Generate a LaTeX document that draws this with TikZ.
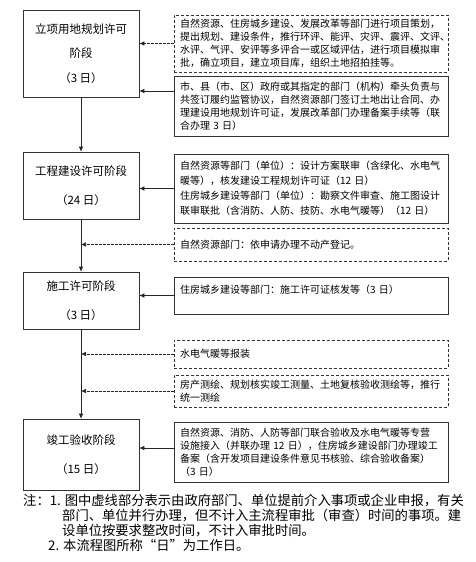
\documentclass[tikz,border=0pt]{standalone}
\usepackage{fontspec}
\setmainfont{Noto Sans CJK SC}
\usepackage{tikz}
\usetikzlibrary{arrows.meta}

\begin{document}
\begin{tikzpicture}[x=1pt,y=-1pt,
  stage/.style={draw=black!80,line width=0.6pt,minimum width=116pt,align=center,font=\fontsize{11.5}{29.5}\selectfont},
  task/.style={draw=black!80,line width=0.6pt,text width=262pt,inner xsep=6pt,align=left,font=\fontsize{10}{13}\selectfont},
  opt/.style={task,dash pattern=on 3pt off 2pt},
  flow/.style={draw=black!85,line width=0.6pt,-{Latex[length=5pt,width=4.5pt]}},
  optflow/.style={flow,dash pattern=on 2.5pt off 1.5pt},
  note/.style={anchor=base west,inner sep=0pt,font=\fontsize{13.3}{15}\selectfont}]
\useasboundingbox (0,0) rectangle (475,562);
\node[stage,minimum height=87pt,font=\fontsize{11.5}{24.5}\selectfont] (s1) at (81,53.5) {立项用地规划许可\\阶段\\（3 日）};
\node[stage,minimum height=67pt] (s2) at (81,185.5) {工程建设许可阶段\\（24 日）};
\node[stage,minimum height=57pt] (s3) at (81,300.5) {施工许可阶段\\（3 日）};
\node[stage,minimum height=71pt] (s4) at (81,454.5) {竣工验收阶段\\（15 日）};
\node[opt,minimum height=57pt] (r1) at (311,43.5) {自然资源、住房城乡建设、发展改革等部门进行项目策划，\\提出规划、建设条件，推行环评、能评、灾评、震评、文评、\\水评、气评、安评等多评合一或区域评估，进行项目模拟审\\批，确立项目，建立项目库，组织土地招拍挂等。};
\node[task,minimum height=60pt] (r2) at (311,106) {市、县（市、区）政府或其指定的部门（机构）牵头负责与\\共签订履约监管协议，自然资源部门签订土地出让合同、办\\理建设用地规划许可证，发展改革部门办理备案手续等（联\\合办理 3 日）};
\node[task,minimum height=69pt,font=\fontsize{10}{15}\selectfont] (r3) at (311,188.5) {自然资源等部门（单位）：设计方案联审（含绿化、水电气\\暖等），核发建设工程规划许可证（12 日）\\住房城乡建设等部门（单位）：勘察文件审查、施工图设计\\联审联批（含消防、人防、技防、水电气暖等）（12 日）};
\node[opt,minimum height=33pt] (r4) at (311,244.5) {自然资源部门：依申请办理不动产登记。};
\node[task,minimum height=37pt] (r5) at (311,295.5) {住房城乡建设等部门：施工许可证核发等（3 日）\\\mbox{}};
\node[opt,minimum height=28pt] (r6) at (311,354) {水电气暖等报装};
\node[opt,minimum height=32pt] (r7) at (311,391) {房产测绘、规划核实竣工测量、土地复核验收测绘等，推行\\统一测绘};
\node[task,minimum height=60pt] (r8) at (311,452) {自然资源、消防、人防等部门联合验收及水电气暖等专营\\设施接入（并联办理 12 日），住房城乡建设部门办理竣工\\备案（含开发项目建设条件意见书核验、综合验收备案）\\（3 日）};
\draw[flow] (s1.south) -- (s2.north);
\draw[flow] (s2.south) -- (s3.north);
\draw[flow] (s3.south) -- (s4.north);
\draw[optflow] (r1.west) -- (r1.west -| s1.east);
\draw[flow] ([yshift=15pt]r2.west) -- ([yshift=15pt]r2.west -| s1.east);
\draw[flow] (r3.west) -- (r3.west -| s2.east);
\draw[optflow] (r4.west) -- (r4.west -| s2.south);
\draw[flow] (r5.west) -- (r5.west -| s3.east);
\draw[optflow] (r6.west) -- (r6.west -| s3.south);
\draw[optflow] (r7.west) -- (r7.west -| s3.south);
\draw[flow] ([yshift=4pt]r8.west) -- ([yshift=4pt]r8.west -| s4.east);
\node[note] (n1) at (23,505) {注：1. 图中虚线部分表示由政府部门、单位提前介入事项或企业申报，有关};
\node[note] (n2) at (62,520) {部门、单位并行办理，但不计入主流程审批（审查）时间的事项。建};
\node[note] (n3) at (62,535) {设单位按要求整改时间，不计入审批时间。};
\node[note] (n4) at (48,550) {2. 本流程图所称“日”为工作日。};
\end{tikzpicture}
\end{document}
